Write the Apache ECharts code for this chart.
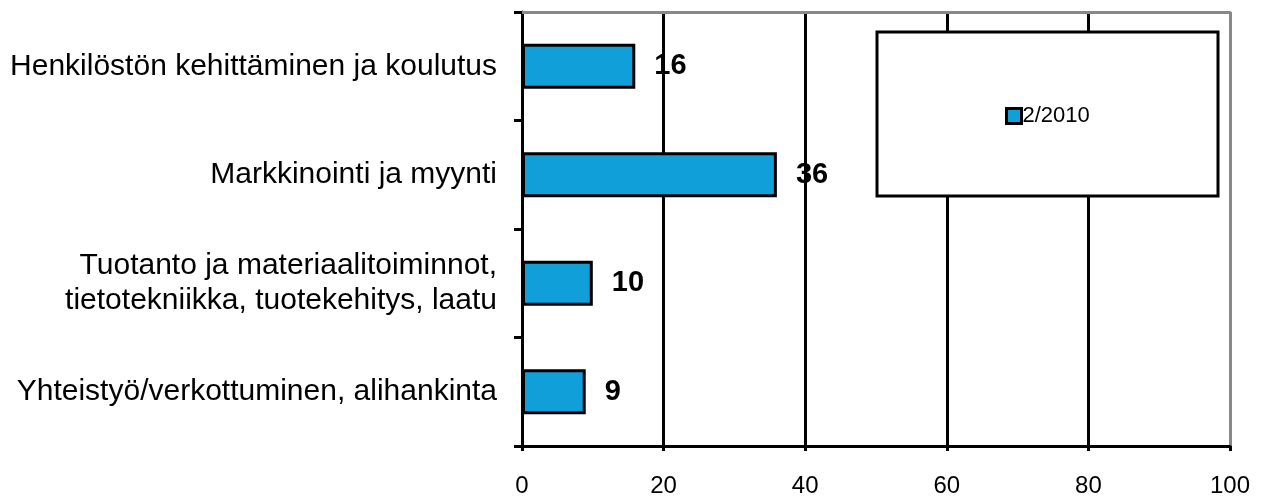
<!DOCTYPE html>
<html><head><meta charset="utf-8">
<script src="https://cdn.jsdelivr.net/npm/echarts@6/dist/echarts.min.js"></script>
<style>html,body{margin:0;padding:0;background:#fff}#c{width:1268px;height:498px}</style>
</head><body><div id="c"></div>
<script>
const categories = ["Henkilöstön kehittäminen ja koulutus", "Markkinointi ja myynti", "Tuotanto ja materiaalitoiminnot,\ntietotekniikka, tuotekehitys, laatu", "Yhteistyö/verkottuminen, alihankinta"];
const seriesName = "2/2010";
const values = [16, 36, 10, 9];
const font = "Arial, 'Liberation Sans', sans-serif";
const chart = echarts.init(document.getElementById('c'));
chart.setOption({
  animation: false,
  grid: { left: 522, right: 38, top: 12, bottom: 49 },
  xAxis: [{
    type: 'value', min: 0, max: 100, interval: 20,
    axisLine: { show: true, lineStyle: { color: '#000', width: 3 } },
    axisTick: { show: true, length: 5, lineStyle: { color: '#000', width: 3 } },
    axisLabel: { color: '#000', fontSize: 24, fontFamily: font, margin: 28 },
    splitLine: { show: true, lineStyle: { color: ['#000', '#000', '#000', '#000', '#000', '#888'], width: 3 } }
  }, {
    type: 'value', min: 0, max: 100, position: 'top',
    axisLine: { show: true, lineStyle: { color: '#888', width: 3 } },
    axisTick: { show: false }, axisLabel: { show: false }, splitLine: { show: false }
  }],
  yAxis: {
    type: 'category', data: categories, inverse: true,
    axisLine: { show: true, lineStyle: { color: '#000', width: 3 } },
    axisTick: { show: true, length: 8, lineStyle: { color: '#000', width: 3 } },
    axisLabel: { color: '#000', fontSize: 30, fontFamily: font, margin: 25, lineHeight: 35, align: 'right' }
  },
  legend: {
    data: [seriesName], left: 1000, top: 100, z: 10,
    itemWidth: 15, itemHeight: 15, itemGap: 4,
    itemStyle: { color: '#109FD8', borderColor: '#000', borderWidth: 3 },
    textStyle: { color: '#000', fontSize: 22, fontFamily: font, padding: [0, 0, 0, -4] },
    icon: 'rect'
  },
  graphic: [{
    type: 'rect', z: 5,
    shape: { x: 877, y: 32, width: 341, height: 164 },
    style: { fill: '#fff', stroke: '#000', lineWidth: 3 }
  }],
  series: [{
    name: seriesName, type: 'bar', data: values, barWidth: 45, z: 2,
    itemStyle: { color: '#109FD8', borderColor: '#000', borderWidth: 3 },
    label: { show: true, position: 'right', distance: 19, color: '#000', fontSize: 29, fontWeight: 'bold', fontFamily: font }
  }]
});
</script></body></html>
